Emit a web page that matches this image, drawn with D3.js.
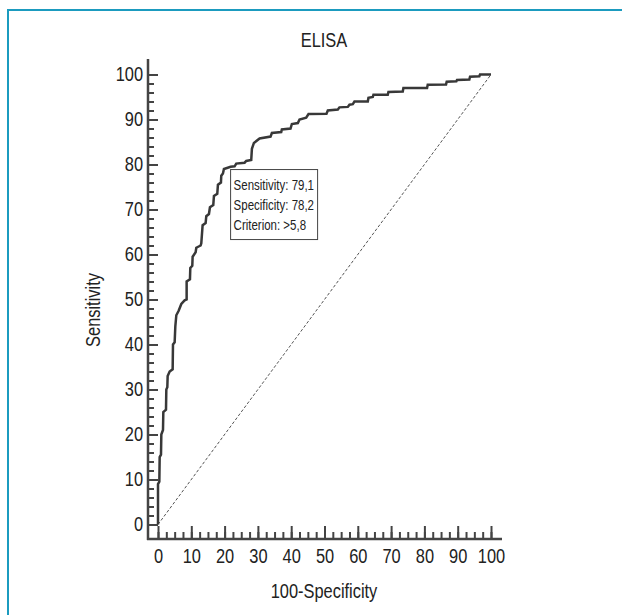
<!DOCTYPE html>
<html>
<head>
<meta charset="utf-8">
<script src="https://cdnjs.cloudflare.com/ajax/libs/d3/7.8.5/d3.min.js"></script>
<style>
  body { margin: 0; background: #fff; }
  text { font-family: "Liberation Sans", Arial, sans-serif; fill: #222; }
</style>
</head>
<body>
<div id="content"></div>
<script>
// ROC curve vertices (100-Specificity, Sensitivity)
var fpr  = [0,0,0.4,0.5,0.9,1,1.5,1.6,2.4,2.5,2.8,2.9,3.5,4.4,4.5,5,5.2,5.5,6.2,7,8,8.6,8.6,9.6,9.7,10.3,10.4,11.3,11.5,12.8,13,13.4,14.3,14.5,15.3,15.6,16.6,16.8,17.8,18,18.9,19,19.5,19.8,21.8,23,23.5,26,26.5,28,28.2,28.8,30.5,33.8,34.2,37,37.2,39.8,40.2,42,42.5,44.5,45.2,50.6,51,54,54.5,57,57.5,58.5,59,63,63.2,64.5,64.7,69,69.2,73.5,73.7,80.8,81,86.5,86.7,89.6,89.8,93.5,93.7,96.5,96.7,100];
var sens = [0,9,9.5,15,15.5,20,21,25,25.5,30,30.5,33,34,34.5,40,40.5,44,46.5,47.5,49,49.8,50,54,54.5,57,57.5,59.5,60.5,61.5,62,62.5,66.5,67,68.5,69,70.5,71,73,73.5,75.5,76,77.5,78,79,79.5,79.6,80.2,80.4,80.8,81,83.5,84.8,85.8,86.2,87,87.2,87.8,88,89,89.2,90,90.4,91.2,91.3,92,92.2,92.7,92.8,93.3,93.4,94,94,94.8,95,95.5,95.5,96.1,96.2,97,97,97.7,97.8,98.4,98.5,98.8,98.9,99.5,99.6,100,100];
var xTicks = [0,10,20,30,40,50,60,70,80,90,100];
var yTicks = [0,10,20,30,40,50,60,70,80,90,100];
var optimal = { fpr: 21.8, sens: 79.1 };
var infoLines = ["Sensitivity: 79,1", "Specificity: 78,2", "Criterion: >5,8"];

var width = 622, height = 615;
var svg = d3.select('#content').append('svg').attr('width', width).attr('height', height);

// teal frame (top + left)
svg.append('path').attr('d', 'M8,615 V10 H622')
  .attr('fill', 'none').attr('stroke', '#1b9bbf').attr('stroke-width', 2);

var x = d3.scaleLinear().domain([0, 100]).range([158, 491]);
var y = d3.scaleLinear().domain([0, 100]).range([524.5, 74.5]);
var axisColor = '#444';

// title
svg.append('text').attr('x', 324).attr('y', 47).attr('text-anchor', 'middle')
  .style('font-size', '20px').text('ELISA');

// x axis
var xg = svg.append('g').attr('transform', 'translate(0,539)');
xg.append('line').attr('x1', 147).attr('x2', 502).attr('y1', 0).attr('y2', 0)
  .attr('stroke', axisColor).attr('stroke-width', 2.5);
var xMinor = svg.append('g').attr('transform', 'translate(0,539)')
  .call(d3.axisBottom(x).tickValues(d3.range(0, 100.1, 2.5)).tickSize(-7).tickFormat(''));
var xMajor = svg.append('g').attr('transform', 'translate(0,539)')
  .call(d3.axisBottom(x).tickValues(xTicks).tickSize(-13).tickPadding(10));
[xMinor, xMajor].forEach(function(g){
  g.select('.domain').remove();
  g.selectAll('line').attr('stroke', axisColor).attr('stroke-width', 2);
});
xMajor.selectAll('text').style('font-size', '20px').style('font-family', null).attr('fill', '#222');

// y axis
var yg = svg.append('g').attr('transform', 'translate(148,0)');
yg.append('line').attr('x1', 0).attr('x2', 0).attr('y1', 59).attr('y2', 540)
  .attr('stroke', axisColor).attr('stroke-width', 2.5);
var yMinor = svg.append('g').attr('transform', 'translate(148,0)')
  .call(d3.axisLeft(y).tickValues(d3.range(0, 100.1, 2)).tickSize(-6).tickFormat(''));
var yMajor = svg.append('g').attr('transform', 'translate(148,0)')
  .call(d3.axisLeft(y).tickValues(yTicks).tickSize(-10).tickPadding(5));
[yMinor, yMajor].forEach(function(g){
  g.select('.domain').remove();
  g.selectAll('line').attr('stroke', axisColor).attr('stroke-width', 2);
});
yMajor.selectAll('text').style('font-size', '20px').style('font-family', null).attr('fill', '#222');

// axis titles
svg.append('text').attr('x', 324).attr('y', 598).attr('text-anchor', 'middle')
  .style('font-size', '20px').text('100-Specificity');
svg.append('text').attr('transform', 'translate(100,310) rotate(-90)').attr('text-anchor', 'middle')
  .style('font-size', '20px').text('Sensitivity');

// diagonal reference
svg.append('line').attr('x1', x(0)).attr('y1', y(0)).attr('x2', x(100)).attr('y2', y(100))
  .attr('stroke', '#555').attr('stroke-width', 1).attr('stroke-dasharray', '3,2');

// ROC curve
var pts = fpr.map(function(f, i){ return [f, sens[i]]; });
var line = d3.line().x(function(d){ return x(d[0]); }).y(function(d){ return y(d[1]); });
svg.append('path').datum(pts).attr('d', line)
  .attr('fill', 'none').attr('stroke', '#383838').attr('stroke-width', 2.5)
  .attr('stroke-linejoin', 'miter');

// info box at the optimal criterion
var bx = x(optimal.fpr), by = y(optimal.sens);
var box = svg.append('g').attr('transform', 'translate(' + bx + ',' + by + ')');
box.append('rect').attr('x', 0).attr('y', 1).attr('width', 87).attr('height', 70)
  .attr('fill', '#fff').attr('stroke', '#444').attr('stroke-width', 1);
box.selectAll('text.info').data(infoLines).enter().append('text')
  .attr('class', 'info')
  .attr('x', 3).attr('y', function(d, i){ return 21 + i * 20; })
  .style('font-size', '14px').text(function(d){ return d; });

// narrow the lettering (Arial Narrow look)
svg.selectAll('text').each(function(){
  var w = this.getComputedTextLength();
  if (w > 0) d3.select(this).attr('textLength', w * 0.82).attr('lengthAdjust', 'spacingAndGlyphs');
});
</script>
</body>
</html>
